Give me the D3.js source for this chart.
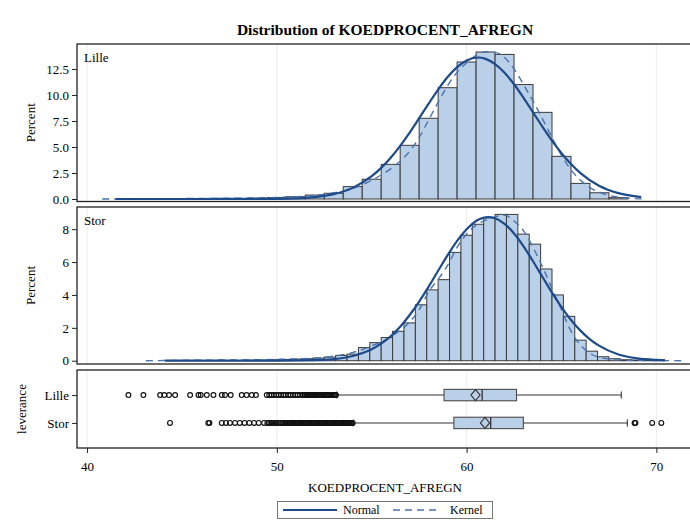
<!DOCTYPE html>
<html>
<head>
<meta charset="utf-8">
<script src="https://d3js.org/d3.v7.min.js"></script>
<style>
    body { margin: 0; background: #fff; }
    svg text { font-family: "Liberation Serif", "Times New Roman", serif; fill: #000; }
</style>
</head>
<body>
<div id="chart"></div>
<script>

// histogram bins, percent per bin
var lilleBins = [48, 49, 50, 51, 52, 53, 54, 55, 56, 57, 58, 59, 60, 61, 62, 63, 64, 65, 66, 67, 68];
var lillePct = [0.04, 0.08, 0.13, 0.22, 0.38, 0.55, 1.19, 1.9, 3.33, 5.16, 7.76, 10.7, 13.17, 14.13, 13.9, 11.0, 8.33, 4.1, 1.5, 0.6, 0.13];
var lilleWidth = 1;

var storBins = [48.6, 49.2, 49.8, 50.4, 51.0, 51.6, 52.2, 52.8, 53.4, 54.0, 54.6, 55.2, 55.8, 56.4, 57.0, 57.6, 58.2, 58.8, 59.4, 60.0,
    60.6, 61.2, 61.8, 62.4, 63.0, 63.6, 64.2, 64.8, 65.4, 66.0, 66.6, 67.2, 67.8, 68.4, 69.0, 69.6, 70.2];
var storPct = [0.03, 0.04, 0.06, 0.08, 0.1, 0.12, 0.16, 0.22, 0.32, 0.4, 0.8, 1.1, 1.41, 1.79, 2.3, 3.4, 4.31, 4.93, 6.59, 7.63,
    8.3, 8.7, 8.9, 8.9, 7.7, 7.09, 5.58, 4.0, 2.7, 1.25, 0.58, 0.24, 0.12, 0.06, 0.04, 0.02, 0.02];
var storWidth = 0.6;

// fitted curves as [x, percent]
var lilleNormal = [[41.5, 0], [46, 0], [48, 0.01], [50, 0.02], [51, 0.06], [52, 0.18], [53, 0.47], [54, 1.07], [55, 2.19], [55.5, 2.99],
    [56, 3.97], [56.5, 5.11], [57, 6.39], [57.5, 7.77], [58, 9.17], [58.5, 10.52], [59, 11.72], [59.5, 12.68], [60, 13.32], [60.6, 13.6],
    [61, 13.47], [61.5, 12.97], [62, 12.13], [62.5, 11.03], [63, 9.73], [63.5, 8.33], [64, 6.94], [64.5, 5.61], [65, 4.4], [65.5, 3.36],
    [66, 2.49], [67, 1.25], [68, 0.56], [69.2, 0.18]];
var lilleKernel = [[40.8, 0], [43, 0.02], [45, 0.04], [47, 0.06], [49, 0.1], [50, 0.15], [51, 0.22], [52, 0.35], [53, 0.6], [54, 1.0],
    [55, 1.8], [56, 2.9], [57, 4.6], [57.5, 5.9], [58, 7.6], [58.5, 9.3], [59, 10.9], [59.5, 12.2], [60, 13.1], [60.5, 13.8],
    [61, 14.15], [61.5, 14.1], [62, 13.6], [62.5, 12.5], [63, 11.0], [63.5, 9.4], [64, 7.7], [64.5, 5.9], [65, 4.2], [65.5, 2.8],
    [66, 1.8], [66.5, 1.1], [67, 0.65], [67.5, 0.35], [68, 0.18], [68.5, 0.08], [69.4, 0]];
var storNormal = [[44.1, 0], [48, 0], [50, 0.01], [52, 0.03], [53, 0.1], [54, 0.29], [55, 0.7], [55.5, 1.04], [56, 1.49], [56.5, 2.07],
    [57, 2.78], [57.5, 3.6], [58, 4.51], [58.5, 5.47], [59, 6.42], [59.5, 7.29], [60, 8.0], [60.5, 8.5], [61.15, 8.74], [61.5, 8.67],
    [62, 8.33], [62.5, 7.74], [63, 6.96], [63.5, 6.05], [64, 5.09], [64.5, 4.14], [65, 3.26], [65.5, 2.48], [66, 1.83], [66.5, 1.3],
    [67, 0.9], [68, 0.38], [69, 0.14], [70, 0.05], [70.45, 0.03]];
var storKernel = [[43.1, 0], [45, 0.02], [47, 0.04], [49, 0.06], [50, 0.08], [51, 0.11], [52, 0.16], [53, 0.28], [54, 0.5], [55, 0.9],
    [56, 1.45], [56.5, 1.85], [57, 2.35], [57.5, 3.1], [58, 4.2], [58.5, 4.95], [59, 5.8], [59.5, 6.9], [60, 7.7], [60.5, 8.25],
    [61, 8.55], [61.5, 8.75], [62, 8.85], [62.5, 8.5], [63, 7.9], [63.5, 6.9], [64, 5.7], [64.5, 4.4], [65, 3.1], [65.5, 1.8],
    [66, 0.95], [66.5, 0.45], [67, 0.2], [67.5, 0.1], [68, 0.05], [69, 0.02], [71.5, 0]];

// box plot
var boxCats = ["Lille", "Stor"];
var boxQ1 = [58.81, 59.33];
var boxMedian = [60.82, 61.27];
var boxQ3 = [62.63, 62.99];
var boxMean = [60.47, 60.97];
var boxLo = [53.16, 54.03];
var boxHi = [68.15, 68.47];

var lilleOut = [42.18, 42.97, 43.85, 44.07, 44.32, 44.64, 45.43, 45.87, 45.99, 46.31, 46.66, 47.1, 47.27, 47.57, 48.15, 48.41, 48.68, 48.9,
    49.47, 49.6, 49.72, 49.85, 49.97, 50.1, 50.22, 50.35, 50.47, 50.6, 50.72, 50.85, 50.97, 51.1, 51.22, 51.35, 51.45,
    51.5, 51.56, 51.62, 51.68, 51.74, 51.8, 51.86, 51.92, 51.98, 52.04, 52.1, 52.16, 52.22, 52.28, 52.34, 52.4, 52.46,
    52.52, 52.58, 52.64, 52.7, 52.76, 52.82, 52.88, 52.94, 53.0, 53.06, 53.12];
var storOut = [44.37, 46.39, 46.45, 47.1, 47.32, 47.53, 47.8, 48.05, 48.3, 48.55, 48.8, 49.05, 49.33,
    49.5, 49.6, 49.7, 49.8, 49.9, 50.0, 50.1, 50.2, 50.3,
    50.4, 50.46, 50.52, 50.58, 50.64, 50.7, 50.76, 50.82, 50.88, 50.94, 51.0, 51.06, 51.12, 51.18, 51.24, 51.3, 51.36,
    51.42, 51.48, 51.54, 51.6, 51.66, 51.72, 51.78, 51.84, 51.9, 51.96, 52.02, 52.08, 52.14, 52.2, 52.26, 52.32, 52.38,
    52.44, 52.5, 52.56, 52.62, 52.68, 52.74, 52.8, 52.86, 52.92, 52.98, 53.04, 53.1, 53.16, 53.22, 53.28, 53.34, 53.4,
    53.46, 53.52, 53.58, 53.64, 53.7, 53.76, 53.82, 53.88, 53.94, 54.0,
    68.85, 68.9, 69.78, 70.26];

var xTicks = [40, 50, 60, 70];
var lilleTicks = [0, 2.5, 5, 7.5, 10, 12.5];
var storTicks = [0, 2, 4, 6, 8];

(function () {

    "use strict";

    var fillColor = "#bacfe8",
        edgeColor = "#3a3a3a",
        normalColor = "#1d4a8a",
        kernelColor = "#4a74ad",
        gridColor = "#ececec";

    var svg = d3.select("#chart")
        .append("svg")
        .attr("width", 690)
        .attr("height", 525);

    var left = 77, right = 693;

    var x = d3.scaleLinear().domain([39.47, 71.93]).range([left, right]);

    svg.append("defs").append("clipPath")
        .attr("id", "plotclip")
        .append("rect")
        .attr("x", left).attr("y", 0)
        .attr("width", right - left).attr("height", 525);

    svg.append("text")
        .attr("x", 385)
        .attr("y", 35)
        .attr("text-anchor", "middle")
        .style("font-size", "15.5px")
        .style("font-weight", "bold")
        .text("Distribution of KOEDPROCENT_AFREGN");

    function histPanel(top, bottom, yDomain, ticks, fmt, bins, pct, width, normal, kernel, label) {

        var y = d3.scaleLinear().domain(yDomain).range([bottom, top]);
        var g = svg.append("g");

        // grid
        g.selectAll("line.grid")
            .data(xTicks)
            .enter()
            .append("line")
            .attr("x1", function (d) { return x(d); })
            .attr("x2", function (d) { return x(d); })
            .attr("y1", top).attr("y2", bottom)
            .attr("stroke", gridColor)
            .attr("stroke-width", 1);

        var plot = g.append("g").attr("clip-path", "url(#plotclip)");

        plot.selectAll("rect.bar")
            .data(bins)
            .enter()
            .append("rect")
            .attr("x", function (d) { return x(d - width / 2); })
            .attr("width", function (d) { return x(d + width / 2) - x(d - width / 2); })
            .attr("y", function (d, i) { return y(pct[i]); })
            .attr("height", function (d, i) { return y(0) - y(pct[i]); })
            .attr("fill", fillColor)
            .attr("stroke", edgeColor)
            .attr("stroke-width", 1);

        var line = d3.line()
            .x(function (d) { return x(d[0]); })
            .y(function (d) { return y(d[1]); })
            .curve(d3.curveMonotoneX);

        plot.append("path")
            .datum(kernel)
            .attr("d", line)
            .attr("fill", "none")
            .attr("stroke", kernelColor)
            .attr("stroke-width", 1.4)
            .attr("stroke-dasharray", "7,5");

        plot.append("path")
            .datum(normal)
            .attr("d", line)
            .attr("fill", "none")
            .attr("stroke", normalColor)
            .attr("stroke-width", 2.2);

        g.append("rect")
            .attr("x", left).attr("y", top)
            .attr("width", right - left).attr("height", bottom - top)
            .attr("fill", "none")
            .attr("stroke", "#222")
            .attr("stroke-width", 1.3);

        var axis = d3.axisLeft(y)
            .tickValues(ticks)
            .tickSize(5)
            .tickPadding(3)
            .tickFormat(d3.format(fmt));

        var ag = g.append("g")
            .attr("transform", "translate(" + left + ",0)")
            .call(axis);
        ag.select(".domain").remove();
        ag.selectAll("line").attr("stroke", "#222");
        ag.selectAll("text").style("font-size", "13px");

        g.append("text")
            .attr("x", left + 7)
            .attr("y", top + 18)
            .style("font-size", "13px")
            .text(label);

        g.append("text")
            .attr("transform", "translate(35," + ((top + bottom) / 2) + ") rotate(-90)")
            .attr("text-anchor", "middle")
            .style("font-size", "13px")
            .text("Percent");
    }

    histPanel(44, 201.5, [-0.24, 14.9], lilleTicks, ".1f", lilleBins, lillePct, lilleWidth, lilleNormal, lilleKernel, "Lille");
    histPanel(207, 364, [-0.2, 9.35], storTicks, "d", storBins, storPct, storWidth, storNormal, storKernel, "Stor");

    // box plot panel
    var bTop = 370, bBottom = 448;
    var yb = d3.scalePoint().domain(boxCats).range([bTop, bBottom]).padding(0.9);
    var bg = svg.append("g");

    bg.selectAll("line.grid")
        .data(xTicks)
        .enter()
        .append("line")
        .attr("x1", function (d) { return x(d); })
        .attr("x2", function (d) { return x(d); })
        .attr("y1", bTop).attr("y2", bBottom)
        .attr("stroke", gridColor)
        .attr("stroke-width", 1);

    var bp = bg.append("g").attr("clip-path", "url(#plotclip)");
    var half = 5.7;

    boxCats.forEach(function (c, i) {
        var cy = yb(c);

        bp.append("line")
            .attr("x1", x(boxLo[i])).attr("x2", x(boxHi[i]))
            .attr("y1", cy).attr("y2", cy)
            .attr("stroke", "#333").attr("stroke-width", 1.1);

        [boxLo[i], boxHi[i]].forEach(function (v) {
            bp.append("line")
                .attr("x1", x(v)).attr("x2", x(v))
                .attr("y1", cy - 3.5).attr("y2", cy + 3.5)
                .attr("stroke", "#333").attr("stroke-width", 1.1);
        });

        bp.append("rect")
            .attr("x", x(boxQ1[i]))
            .attr("width", x(boxQ3[i]) - x(boxQ1[i]))
            .attr("y", cy - half)
            .attr("height", half * 2)
            .attr("fill", fillColor)
            .attr("stroke", "#4a4a4a")
            .attr("stroke-width", 1.1);

        var mx = x(boxMean[i]);
        bp.append("path")
            .attr("d", "M" + mx + "," + (cy - 5.5) + "L" + (mx + 4.6) + "," + cy + "L" + mx + "," + (cy + 5.5) + "L" + (mx - 4.6) + "," + cy + "Z")
            .attr("fill", fillColor)
            .attr("stroke", "#333")
            .attr("stroke-width", 1.1);

        bp.append("line")
            .attr("x1", x(boxMedian[i])).attr("x2", x(boxMedian[i]))
            .attr("y1", cy - half).attr("y2", cy + half)
            .attr("stroke", "#333").attr("stroke-width", 1.3);

        bp.selectAll("circle.out" + i)
            .data(i === 0 ? lilleOut : storOut)
            .enter()
            .append("circle")
            .attr("cx", function (d) { return x(d); })
            .attr("cy", cy)
            .attr("r", 2.4)
            .attr("fill", "none")
            .attr("stroke", "#111")
            .attr("stroke-width", 1.15);
    });

    bg.append("rect")
        .attr("x", left).attr("y", bTop)
        .attr("width", right - left).attr("height", bBottom - bTop)
        .attr("fill", "none")
        .attr("stroke", "#222")
        .attr("stroke-width", 1.3);

    var ayb = bg.append("g")
        .attr("transform", "translate(" + left + ",0)")
        .call(d3.axisLeft(yb).tickSize(5).tickPadding(3));
    ayb.select(".domain").remove();
    ayb.selectAll("line").attr("stroke", "#222");
    ayb.selectAll("text").style("font-size", "13px");

    bg.append("text")
        .attr("transform", "translate(26," + ((bTop + bBottom) / 2) + ") rotate(-90)")
        .attr("text-anchor", "middle")
        .style("font-size", "13px")
        .text("leverance");

    var axb = bg.append("g")
        .attr("transform", "translate(0," + bBottom + ")")
        .call(d3.axisBottom(x).tickValues(xTicks).tickSize(5).tickPadding(9));
    axb.select(".domain").remove();
    axb.selectAll("line").attr("stroke", "#222");
    axb.selectAll("text").style("font-size", "13px");

    svg.append("text")
        .attr("x", 385)
        .attr("y", 492)
        .attr("text-anchor", "middle")
        .style("font-size", "13px")
        .text("KOEDPROCENT_AFREGN");

    // legend
    var lg = svg.append("g");
    lg.append("rect")
        .attr("x", 277.5).attr("y", 501.5)
        .attr("width", 215).attr("height", 17)
        .attr("fill", "#fff")
        .attr("stroke", "#777")
        .attr("stroke-width", 1);

    lg.append("line")
        .attr("x1", 283).attr("x2", 337)
        .attr("y1", 510).attr("y2", 510)
        .attr("stroke", normalColor).attr("stroke-width", 2.2);
    lg.append("text")
        .attr("x", 343).attr("y", 514)
        .style("font-size", "12px")
        .text("Normal");

    lg.append("line")
        .attr("x1", 393).attr("x2", 437)
        .attr("y1", 510).attr("y2", 510)
        .attr("stroke", kernelColor).attr("stroke-width", 1.4)
        .attr("stroke-dasharray", "7,5");
    lg.append("text")
        .attr("x", 450).attr("y", 514)
        .style("font-size", "12px")
        .text("Kernel");

}());
</script>
</body>
</html>
